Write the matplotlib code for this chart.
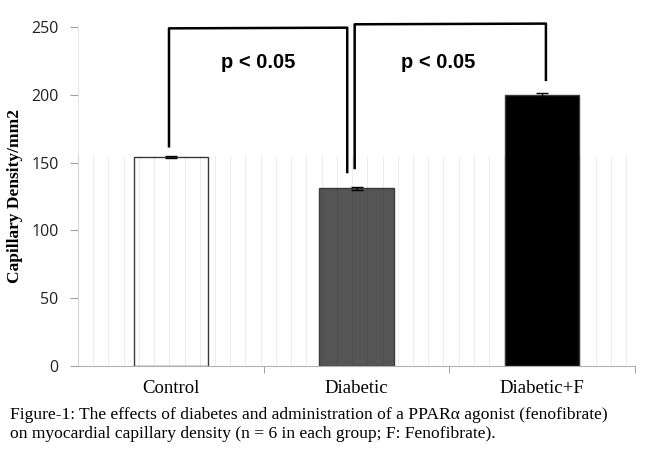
import matplotlib.pyplot as plt
import numpy as np

# data
groups = ["Control", "Diabetic", "Diabetic+F"]
density = [154, 131, 200]
density_err = [1.0, 1.0, 1.5]
bar_colors = ["white", "#555555", "black"]
p_labels = ["p < 0.05", "p < 0.05"]

caption = ("Figure-1: The effects of diabetes and administration of a PPAR\u03b1 agonist (fenofibrate)\n"
           "on myocardial capillary density (n = 6 in each group; F: Fenofibrate).")

fig = plt.figure(figsize=(6.5, 4.5), dpi=100)
ax = fig.add_axes([0.12, 0.187, 0.857, 0.753])

x = np.arange(len(groups))

# faint vertical stripes of the scanned background
for xs in np.arange(-0.5, 2.5, 0.082):
    ax.plot([xs, xs], [0, 155], color="black", alpha=0.07, lw=0.8, zorder=3)

ax.bar(x, density, width=0.40, color=bar_colors, edgecolor="#3a3a3a", linewidth=1.0, zorder=2)
ax.errorbar(x, density, yerr=density_err, fmt="none", ecolor="black", capsize=4, elinewidth=1, zorder=4)

# significance brackets
def bracket(x1, x2, y1, y2, ytop, text, xt):
    ax.plot([x1, x1, x2, x2], [y1, ytop, ytop + 0.5, y2], color="black", lw=1.8, clip_on=False, zorder=5)
    ax.text(xt, 224, text, ha="center", va="center", fontsize=14.5,
            fontweight="bold", family="Liberation Sans")

bracket(x[0] - 0.01, x[1] - 0.05, density[0] + 8, density[1] + 12, 249, p_labels[0], 0.47)
bracket(x[1] - 0.01, x[2] + 0.02, density[1] + 15, density[2] + 11, 252, p_labels[1], 1.44)

ax.set_xlim(-0.5, 2.5)
ax.set_ylim(0, 250)
ax.set_yticks([0, 50, 100, 150, 200, 250])
ax.tick_params(axis="y", length=6, color="#a0a0a0", labelsize=11.5, pad=8)
for lbl in ax.get_yticklabels():
    lbl.set_family("Open Sans")
    lbl.set_color("#222222")

ax.set_xticks(x)
ax.set_xticklabels(groups, family="Liberation Serif", fontsize=13.5)
ax.set_xticks([0.5, 1.5, 2.5], minor=True)
ax.tick_params(axis="x", which="major", length=0, pad=10)
ax.tick_params(axis="x", which="minor", length=5, color="#909090")

for side in ["top", "right"]:
    ax.spines[side].set_visible(False)
ax.spines["left"].set_color("#e6e6e6")
ax.spines["bottom"].set_color("#b0b0b0")

ax.set_ylabel("Capillary Density/mm2", family="Liberation Serif", fontweight="bold", fontsize=12.5, labelpad=6)

fig.text(0.015, 0.018, caption, family="Liberation Serif", fontsize=12.6, ha="left", va="bottom",
         linespacing=1.25)

fig.savefig("out.png", dpi=100)
